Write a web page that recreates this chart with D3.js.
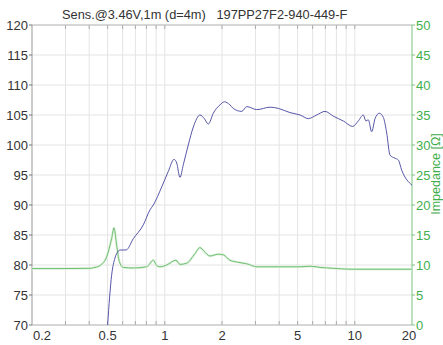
<!DOCTYPE html>
<html>
<head>
<meta charset="utf-8">
<script src="https://cdn.jsdelivr.net/npm/d3@7"></script>
<style>
  body { margin: 0; background: #fff; }
  text { font-family: "Liberation Sans", Arial, sans-serif; }
</style>
</head>
<body>
<div id="chart"></div>
<script>
// frequency response (kHz, dB)
const splFreq = [0.50, 0.525, 0.547, 0.569, 0.581, 0.625, 0.683, 0.771, 0.836, 0.870, 0.963, 1.043, 1.118, 1.155, 1.202, 1.251, 1.329, 1.413, 1.532, 1.614, 1.695, 1.80, 1.952, 2.06, 2.20, 2.29, 2.54, 2.70, 3.05, 3.58, 3.96, 4.56, 5.15, 5.69, 6.30, 6.97, 7.71, 8.70, 9.75, 10.43, 11.08, 11.45, 11.78, 12.27, 12.78, 13.46, 14.13, 14.72, 15.32, 16.28, 16.94, 17.66, 20.0];
const splDb = [70, 78.3, 81.2, 82.3, 82.5, 82.5, 84.4, 86.7, 89.2, 90, 93, 95.6, 97.6, 97, 94.6, 96.7, 100, 103, 105, 104.4, 103.5, 105.3, 106.7, 107.2, 106.7, 106.1, 105.6, 106.4, 105.9, 106.3, 106.1, 105.4, 105, 104.4, 105, 105.6, 104.8, 104, 103.1, 104, 105, 104, 104.2, 102.2, 104.4, 105.3, 104.6, 102, 98.3, 97.8, 97.5, 95.8, 93.3];

// impedance (kHz, ohm)
const impFreq = [0.2, 0.281, 0.404, 0.429, 0.456, 0.495, 0.525, 0.540, 0.558, 0.576, 0.605, 0.683, 0.803, 0.870, 0.906, 0.944, 1.023, 1.145, 1.202, 1.304, 1.442, 1.532, 1.608, 1.73, 1.91, 2.03, 2.20, 2.49, 2.70, 3.05, 5.15, 5.81, 6.56, 7.71, 9.44, 20.0];
const impOhm = [9.4, 9.4, 9.45, 9.6, 9.9, 11.4, 14.4, 16.2, 13.3, 10.6, 9.6, 9.5, 9.7, 10.8, 9.9, 9.7, 10.0, 10.8, 10.1, 10.3, 11.9, 12.9, 12.3, 11.5, 11.8, 11.7, 10.8, 10.4, 10.2, 9.7, 9.7, 9.8, 9.6, 9.45, 9.3, 9.3];

const xTicks = [0.2, 0.5, 1, 2, 5, 10, 20];
const xGrid = [0.3, 0.4, 0.5, 0.6, 0.7, 0.8, 0.9, 1, 2, 3, 4, 5, 6, 7, 8, 9, 10];
const dbTicks = [70, 75, 80, 85, 90, 95, 100, 105, 110, 115, 120];
const ohmTicks = [0, 5, 10, 15, 20, 25, 30, 35, 40, 45, 50];

(() => {
    const width = 443, height = 345;
    const mLeft = 32, mRight = 412, mTop = 25, mBottom = 325;

    const svg = d3.select("#chart").append("svg")
        .attr("width", width)
        .attr("height", height);

    const x = d3.scaleLog().domain([0.2, 20]).range([mLeft, mRight]);
    const yDb = d3.scaleLinear().domain([70, 120]).range([mBottom, mTop]);
    const yOhm = d3.scaleLinear().domain([0, 50]).range([mBottom, mTop]);

    // grid
    svg.selectAll(".vgrid")
        .data(xGrid)
        .join("line")
        .attr("class", "vgrid")
        .attr("x1", d => x(d)).attr("x2", d => x(d))
        .attr("y1", mTop).attr("y2", mBottom)
        .attr("stroke", "#e4e4e4");

    svg.selectAll(".hgrid")
        .data(dbTicks)
        .join("line")
        .attr("class", "hgrid")
        .attr("x1", mLeft).attr("x2", mRight)
        .attr("y1", d => yDb(d)).attr("y2", d => yDb(d))
        .attr("stroke", "#e4e4e4");

    // small inner ticks at top and bottom
    [mTop, mBottom].forEach((yy, i) => {
        svg.selectAll(".itick" + i)
            .data(xGrid)
            .join("line")
            .attr("class", "itick" + i)
            .attr("x1", d => x(d)).attr("x2", d => x(d))
            .attr("y1", yy).attr("y2", i === 0 ? yy + 4 : yy - 4)
            .attr("stroke", "#aaa");
    });

    // frame
    svg.append("line").attr("x1", mLeft).attr("x2", mRight).attr("y1", mTop).attr("y2", mTop).attr("stroke", "#bbb");
    svg.append("line").attr("x1", mLeft).attr("x2", mRight).attr("y1", mBottom).attr("y2", mBottom).attr("stroke", "#bbb");
    svg.append("line").attr("x1", mLeft).attr("x2", mLeft).attr("y1", mTop).attr("y2", mBottom).attr("stroke", "#999");
    svg.append("line").attr("x1", mRight).attr("x2", mRight).attr("y1", mTop).attr("y2", mBottom).attr("stroke", "#7cc47f");

    // left axis
    svg.selectAll(".ltick")
        .data(dbTicks)
        .join("line")
        .attr("class", "ltick")
        .attr("x1", mLeft - 3).attr("x2", mLeft)
        .attr("y1", d => yDb(d)).attr("y2", d => yDb(d))
        .attr("stroke", "#777");

    svg.selectAll(".llab")
        .data(dbTicks)
        .join("text")
        .attr("class", "llab")
        .attr("x", mLeft - 4)
        .attr("y", d => yDb(d) + 4.5)
        .attr("text-anchor", "end")
        .attr("font-size", 13)
        .attr("fill", "#333")
        .text(d => d);

    // right axis
    svg.selectAll(".rtick")
        .data(ohmTicks)
        .join("line")
        .attr("class", "rtick")
        .attr("x1", mRight).attr("x2", mRight + 3)
        .attr("y1", d => yOhm(d)).attr("y2", d => yOhm(d))
        .attr("stroke", "#7cc47f");

    svg.selectAll(".rlab")
        .data(ohmTicks)
        .join("text")
        .attr("class", "rlab")
        .attr("x", mRight + 4)
        .attr("y", d => yOhm(d) + 4.5)
        .attr("font-size", 13)
        .attr("fill", "#3fae4c")
        .text(d => d);

    svg.append("text")
        .attr("transform", "translate(440,174) rotate(-90)")
        .attr("text-anchor", "middle")
        .attr("font-size", 12.5)
        .attr("fill", "#3fae4c")
        .text("Impedance [Ω]");

    // bottom labels
    svg.selectAll(".blab")
        .data(xTicks)
        .join("text")
        .attr("class", "blab")
        .attr("x", d => x(d) + (d === 0.2 ? 10 : d === 20 ? -3 : 0))
        .attr("y", 340)
        .attr("text-anchor", "middle")
        .attr("font-size", 13)
        .attr("fill", "#333")
        .text(d => d);

    // title
    svg.append("text")
        .attr("x", 62)
        .attr("y", 19)
        .attr("font-size", 12.8)
        .attr("fill", "#333")
        .style("white-space", "pre")
        .text("Sens.@3.46V,1m (d=4m)   197PP27F2-940-449-F");

    // curves
    const impLine = d3.line()
        .x((d, i) => x(impFreq[i]))
        .y(d => yOhm(d))
        .curve(d3.curveMonotoneX);

    svg.append("path")
        .datum(impOhm)
        .attr("d", impLine)
        .attr("fill", "none")
        .attr("stroke", "#e0f1e0")
        .attr("stroke-width", 2.5);

    svg.append("path")
        .datum(impOhm)
        .attr("d", impLine)
        .attr("fill", "none")
        .attr("stroke", "#6fc072")
        .attr("stroke-width", 1);

    const splLine = d3.line()
        .x((d, i) => x(splFreq[i]))
        .y(d => yDb(d))
        .curve(d3.curveMonotoneX);

    svg.append("path")
        .datum(splDb)
        .attr("d", splLine)
        .attr("fill", "none")
        .attr("stroke", "#5656a8")
        .attr("stroke-width", 1);
})();
</script>
</body>
</html>
